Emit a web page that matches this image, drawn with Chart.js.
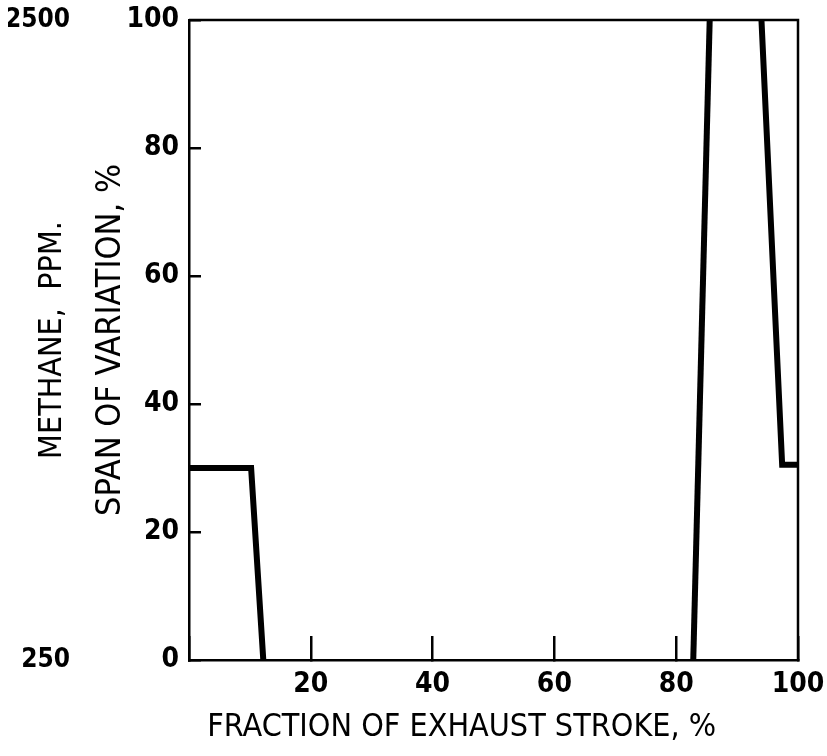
<!DOCTYPE html>
<html>
<head>
<meta charset="utf-8">
<script src="https://cdn.jsdelivr.net/npm/chart.js@4"></script>
<style>
html, body { margin: 0; padding: 0; background: #fff; }
#wrap { width: 827px; height: 756px; }
</style>
</head>
<body>
<div id="wrap"><canvas id="chart"></canvas></div>
<script>
// fraction of exhaust stroke (%) vs span of variation (%)
const strokePct = [0, 10.2, 12.2, 82.8, 85.5, 94, 97.4, 100];
const spanPct = [30, 30, 0, 0, 100, 100, 30.5, 30.5];
const strokeTicks = [0, 20, 40, 60, 80, 100];
const spanTicks = [0, 20, 40, 60, 80, 100];
const methaneTicks = [250, 2500];

const FAM = '"Liberation Sans Narrow", "DejaVu Sans Condensed", sans-serif';

// top and right edge of the plot box
const frame = {
    id: 'frame',
    afterDraw(chart) {
        const a = chart.chartArea, c = chart.ctx;
        c.save();
        c.strokeStyle = '#000';
        c.lineWidth = 2.5;
        c.beginPath();
        c.moveTo(a.left, a.top);
        c.lineTo(a.right, a.top);
        c.lineTo(a.right, a.bottom);
        c.stroke();
        c.restore();
    }
};

// segments that lie on the frame are not drawn
function onFrame(ctx) {
    const y0 = ctx.p0.parsed.y, y1 = ctx.p1.parsed.y;
    return y0 === y1 && (y0 === 0 || y0 === 100);
}

new Chart(document.getElementById('chart'), {
    type: 'line',
    data: {
        datasets: [{
            data: strokePct.map((x, i) => ({x: x, y: spanPct[i]})),
            borderColor: '#000',
            borderWidth: 6,
            borderJoinStyle: 'miter',
            pointRadius: 0,
            tension: 0,
            segment: {
                borderColor: ctx => onFrame(ctx) ? 'rgba(0,0,0,0)' : '#000'
            }
        }]
    },
    options: {
        responsive: true,
        maintainAspectRatio: false,
        animation: false,
        layout: {padding: {left: 8, right: 0, top: 0, bottom: 0}},
        plugins: {legend: {display: false}, tooltip: {enabled: false}},
        scales: {
            x: {
                type: 'linear',
                min: 0,
                max: 100,
                afterBuildTicks: s => { s.ticks = strokeTicks.map(v => ({value: v})); },
                afterFit: s => { s.height = 96; s.paddingRight = 29; s.paddingLeft = 0; },
                border: {color: '#000', width: 2.5},
                grid: {drawOnChartArea: false, tickLength: -24, color: '#000', lineWidth: 2.5},
                ticks: {
                    padding: 32,
                    color: '#000',
                    autoSkip: false,
                    maxRotation: 0,
                    font: {family: FAM, size: 28, weight: 'bold'},
                    callback: v => v === 0 ? '' : v
                },
                title: {
                    display: true,
                    align: 'start',
                    text: '  FRACTION OF EXHAUST STROKE, %',
                    color: '#000',
                    font: {family: FAM, size: 32},
                    padding: {top: 0, bottom: 9}
                }
            },
            y: {
                type: 'linear',
                position: 'left',
                weight: 0,
                min: 0,
                max: 100,
                afterBuildTicks: s => { s.ticks = spanTicks.map(v => ({value: v})); },
                afterFit: s => { s.width = 109; s.paddingTop = 20; s.paddingBottom = 0; },
                border: {color: '#000', width: 2.5},
                grid: {drawOnChartArea: false, tickLength: -12, color: '#000', lineWidth: 2.5},
                ticks: {
                    padding: 22,
                    color: '#000',
                    font: {family: FAM, size: 28, weight: 'bold'}
                },
                title: {
                    display: true,
                    text: 'SPAN OF VARIATION, %',
                    color: '#000',
                    font: {family: FAM, size: 34},
                    padding: {top: 11, bottom: 0}
                }
            },
            y2: {
                type: 'logarithmic',
                position: 'left',
                weight: 1,
                min: 250,
                max: 2500,
                afterBuildTicks: s => { s.ticks = methaneTicks.map(v => ({value: v})); },
                afterFit: s => { s.width = 72; s.paddingTop = 20; s.paddingBottom = 0; },
                border: {display: false},
                grid: {display: false, drawTicks: false},
                ticks: {
                    padding: 10,
                    color: '#000',
                    font: {family: FAM, size: 26, weight: 'bold'},
                    callback: v => String(v)
                },
                title: {
                    display: true,
                    text: 'METHANE,  PPM.',
                    color: '#000',
                    font: {family: FAM, size: 32},
                    padding: {top: 25, bottom: 0}
                }
            }
        }
    },
    plugins: [frame]
});
</script>
</body>
</html>
